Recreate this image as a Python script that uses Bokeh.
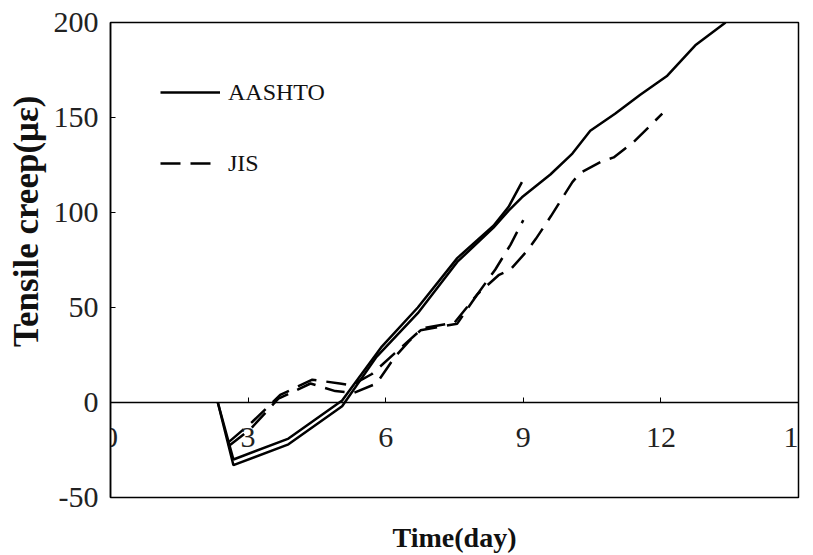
from bokeh.plotting import figure
from bokeh.models import Range1d, LinearAxis, FixedTicker, Legend, LegendItem, Title
from bokeh.embed import file_html
from bokeh.resources import INLINE

# ---- data ----
aashto1_x = [2.34, 2.68, 3.88, 5.05, 5.9, 6.7, 7.56, 8.35, 8.68, 8.97]
aashto1_y = [0, -30, -19, 1, 29, 50, 76, 93, 103, 116]
aashto2_x = [2.34, 2.68, 3.88, 5.05, 5.8, 6.7, 7.56, 8.35, 8.68, 8.97, 9.59, 10.07, 10.46, 11.0, 11.55, 12.14, 12.75, 13.41]
aashto2_y = [0, -33, -22, -2, 24, 47, 74, 92, 101, 108, 120, 131, 143, 152, 162, 172, 188, 200]
jis1_x = [2.57, 3.05, 3.66, 4.36, 4.9, 5.3, 5.8, 6.2, 6.5, 6.76, 7.56, 8.0, 8.46, 8.72, 9.09, 9.27, 9.6, 10.07, 10.25, 10.72, 10.97, 11.4, 12.03]
jis1_y = [-23, -14, 2, 10, 6, 5, 10, 24, 32, 38, 41.5, 57, 67, 70, 80, 86, 98, 116, 121, 127, 129, 137, 152]
jis2_x = [2.57, 3.1, 3.7, 4.4, 5.0, 5.25, 5.7, 6.2, 6.8, 7.5, 8.0, 8.39, 8.72, 9.0]
jis2_y = [-21, -10, 4, 12, 10, 9, 15, 26, 39, 42, 57, 70, 83, 96]

x_ticks = [0, 3, 6, 9, 12, 15]
y_ticks = [-50, 0, 50, 100, 150, 200]

FONT = "Liberation Serif"

p = figure(width=813, height=555, output_backend="svg", toolbar_location=None,
           x_range=Range1d(0, 15), y_range=Range1d(-50, 200),
           x_axis_location=None, y_axis_location=None,
           min_border_left=110, min_border_right=15, min_border_top=22, min_border_bottom=58)
p.xgrid.visible = False
p.ygrid.visible = False
p.outline_line_color = "black"
p.outline_line_width = 1.5
p.background_fill_color = "white"
p.border_fill_color = "white"

# y axis (ticks and numbers)
yax = LinearAxis(ticker=FixedTicker(ticks=y_ticks))
yax.major_tick_in = 5
yax.major_tick_out = 0
yax.minor_tick_line_color = None
yax.major_label_standoff = 12
yax.major_label_overrides = {-50: "-50"}
yax.major_label_text_font = FONT
yax.major_label_text_font_size = "30px"
yax.major_label_text_color = "#222222"
yax.axis_line_color = "black"
yax.axis_line_width = 1.5
p.add_layout(yax, "left")

# y axis title, placed a little above the middle of the frame
ytitle = Title(text="Tensile creep(με)", align="right", offset=73, vertical_align="middle",
               standoff=8, text_font=FONT, text_font_style="bold",
               text_font_size="35px", text_color="#111111")
p.add_layout(ytitle, "left")

# x axis crossing at y = 0
xax = LinearAxis(ticker=FixedTicker(ticks=x_ticks), fixed_location=0)
xax.major_tick_in = 5
xax.major_tick_out = 0
xax.minor_tick_line_color = None
xax.major_label_standoff = 25
xax.major_label_text_font = FONT
xax.major_label_text_font_size = "30px"
xax.major_label_text_color = "#222222"
xax.axis_line_color = "black"
xax.axis_line_width = 1.5
p.add_layout(xax, "below")

# x axis title below the frame
xlab = LinearAxis(ticker=FixedTicker(ticks=[]), axis_label="Time(day)")
xlab.axis_line_color = None
xlab.major_tick_line_color = None
xlab.minor_tick_line_color = None
xlab.axis_label_text_font = FONT
xlab.axis_label_text_font_style = "bold"
xlab.axis_label_text_font_size = "28px"
xlab.axis_label_text_color = "#111111"
xlab.axis_label_standoff = 24
p.add_layout(xlab, "below")

lw = 2.5
a1 = p.line(aashto1_x, aashto1_y, line_color="black", line_width=lw)
a2 = p.line(aashto2_x, aashto2_y, line_color="black", line_width=lw)
j1 = p.line(jis1_x, jis1_y, line_color="black", line_width=lw, line_dash="20 10")
j2 = p.line(jis2_x, jis2_y, line_color="black", line_width=lw, line_dash="20 10")

legend = Legend(items=[LegendItem(label="AASHTO", renderers=[a1]),
                       LegendItem(label="JIS", renderers=[j1])],
                location=(50, 319))
legend.border_line_color = None
legend.background_fill_alpha = 0
legend.padding = 0
legend.margin = 0
legend.spacing = 41
legend.glyph_width = 60
legend.glyph_height = 30
legend.label_height = 30
legend.label_standoff = 8
legend.label_text_font = FONT
legend.label_text_font_size = "24px"
legend.label_text_color = "#111111"
p.add_layout(legend, "center")

open("out.html", "w").write(file_html(p, INLINE))
